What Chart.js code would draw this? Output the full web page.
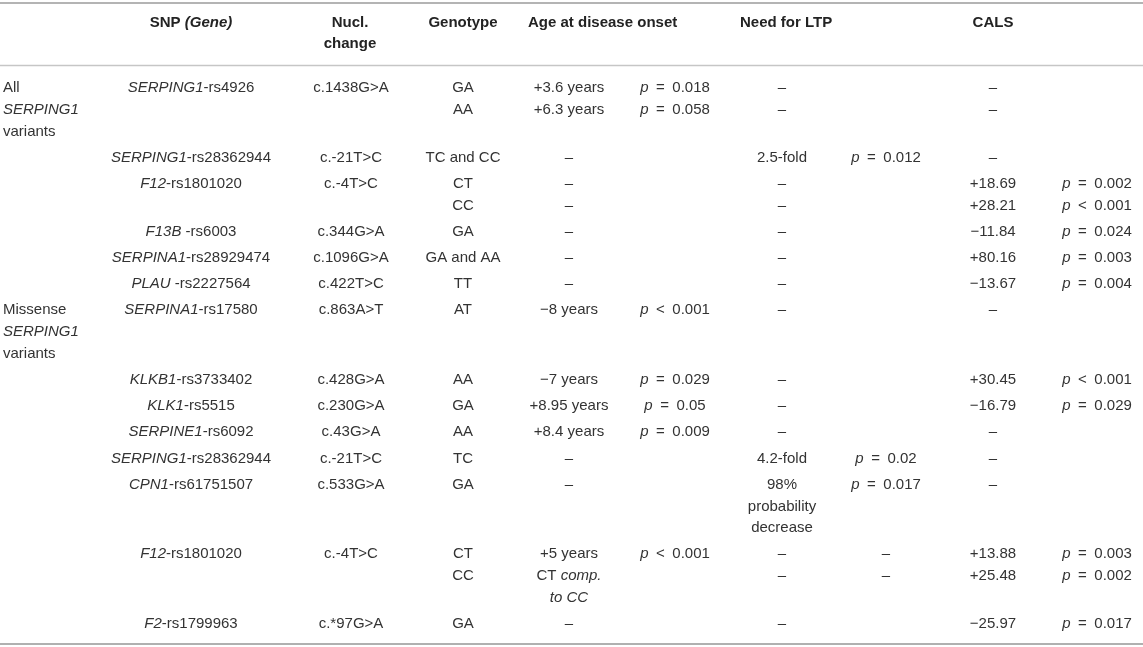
<!DOCTYPE html>
<html>
<head>
<meta charset="utf-8">
<script src="https://cdn.jsdelivr.net/npm/chart.js@4.4.1/dist/chart.umd.min.js"></script>
<style>
html, body { margin: 0; padding: 0; background: #fff; }
#wrap { width: 1143px; height: 647px; }
</style>
</head>
<body>
<div id="wrap"><canvas id="tbl" width="1143" height="647"></canvas></div>
<script>
// "_" toggles italic, "\n" breaks a cell into lines
var headers = ["SNP _(Gene)_", "Nucl.\nchange", "Genotype", "Age at disease onset", "Need for LTP", "CALS"];
var groups = ["All\n_SERPING1_\nvariants", "Missense\n_SERPING1_\nvariants"];
var groupOfRow = [0, 0, 0, 0, 0, 0, 1, 1, 1, 1, 1, 1, 1, 1];

var snps = [
    "_SERPING1_-rs4926", "_SERPING1_-rs28362944", "_F12_-rs1801020", "_F13B_ -rs6003",
    "_SERPINA1_-rs28929474", "_PLAU_ -rs2227564", "_SERPINA1_-rs17580", "_KLKB1_-rs3733402",
    "_KLK1_-rs5515", "_SERPINE1_-rs6092", "_SERPING1_-rs28362944", "_CPN1_-rs61751507",
    "_F12_-rs1801020", "_F2_-rs1799963"
];
var nuclChanges = [
    "c.1438G>A", "c.-21T>C", "c.-4T>C", "c.344G>A", "c.1096G>A", "c.422T>C", "c.863A>T",
    "c.428G>A", "c.230G>A", "c.43G>A", "c.-21T>C", "c.533G>A", "c.-4T>C", "c.*97G>A"
];
var genotypes = [
    ["GA", "AA"], ["TC and CC"], ["CT", "CC"], ["GA"], ["GA and AA"], ["TT"], ["AT"],
    ["AA"], ["GA"], ["AA"], ["TC"], ["GA"], ["CT", "CC"], ["GA"]
];
var ageOnset = [
    ["+3.6 years", "+6.3 years"], ["–"], ["–", "–"], ["–"], ["–"], ["–"], ["−8 years"],
    ["−7 years"], ["+8.95 years"], ["+8.4 years"], ["–"], ["–"], ["+5 years", "CT _comp._\n_to CC_"], ["–"]
];
var ageP = [
    ["_p_ = 0.018", "_p_ = 0.058"], [""], ["", ""], [""], [""], [""], ["_p_ < 0.001"],
    ["_p_ = 0.029"], ["_p_ = 0.05"], ["_p_ = 0.009"], [""], [""], ["_p_ < 0.001", ""], [""]
];
var ltp = [
    ["–", "–"], ["2.5-fold"], ["–", "–"], ["–"], ["–"], ["–"], ["–"],
    ["–"], ["–"], ["–"], ["4.2-fold"], ["98%\nprobability\ndecrease"], ["–", "–"], ["–"]
];
var ltpP = [
    ["", ""], ["_p_ = 0.012"], ["", ""], [""], [""], [""], [""],
    [""], [""], [""], ["_p_ = 0.02"], ["_p_ = 0.017"], ["–", "–"], [""]
];
var cals = [
    ["–", "–"], ["–"], ["+18.69", "+28.21"], ["−11.84"], ["+80.16"], ["−13.67"], ["–"],
    ["+30.45"], ["−16.79"], ["–"], ["–"], ["–"], ["+13.88", "+25.48"], ["−25.97"]
];
var calsP = [
    ["", ""], [""], ["_p_ = 0.002", "_p_ < 0.001"], ["_p_ = 0.024"], ["_p_ = 0.003"], ["_p_ = 0.004"], [""],
    ["_p_ < 0.001"], ["_p_ = 0.029"], [""], [""], [""], ["_p_ = 0.003", "_p_ = 0.002"], ["_p_ = 0.017"]
];

// layout
var FONT = "'Liberation Sans', Arial, sans-serif";
var FONT_SIZE = 15;
var colX = [3, 191, 351, 463, 569, 675, 782, 886, 993, 1097];
var headerX = [191, 350, 463, 528, 740, 993];
var headerAlign = ["center", "center", "center", "left", "left", "center"];
var headerY = 22.5, firstLineY = 88, lineStep = 21.7, rowPad = 4.5;
var rules = [
    { y: 3, width: 2, color: "#b4b4b4" },
    { y: 65.5, width: 1.5, color: "#c6c6c6" },
    { y: 644, width: 2, color: "#b0b0b0" }
];

function pushLines(arr, text, x, y) {
    text.split("\n").forEach(function(line, k) {
        if (line.length) arr.push({ x: x, y: y + k * lineStep, t: line });
    });
    return text.split("\n").length;
}

var headerPts = headers.map(function() { return []; });
headers.forEach(function(h, i) { pushLines(headerPts[i], h, headerX[i], headerY); });

var valueCols = [genotypes, ageOnset, ageP, ltp, ltpP, cals, calsP];
var colPts = colX.map(function() { return []; });
var y = firstLineY;
for (var r = 0; r < snps.length; r++) {
    var rowTop = y;
    pushLines(colPts[1], snps[r], colX[1], rowTop);
    pushLines(colPts[2], nuclChanges[r], colX[2], rowTop);
    var subTop = rowTop;
    for (var s = 0; s < genotypes[r].length; s++) {
        var maxLines = 1;
        valueCols.forEach(function(col, c) {
            var n = pushLines(colPts[3 + c], col[r][s], colX[3 + c], subTop);
            maxLines = Math.max(maxLines, n);
        });
        subTop += maxLines * lineStep;
    }
    var used = Math.round((subTop - rowTop) / lineStep);
    if (r === 0 || groupOfRow[r] !== groupOfRow[r - 1]) {
        var g = pushLines(colPts[0], groups[groupOfRow[r]], colX[0], rowTop);
        used = Math.max(used, g);
    }
    y = rowTop + used * lineStep + rowPad;
}

function drawRich(ctx, text, x, y, align, weight, color) {
    // math-style spacing around = and <
    text = text.replace(/ ([=<]) /g, "\u2002$1\u2002");
    var segs = text.split("_").map(function(p, k) {
        return { s: p, it: k % 2 === 1 };
    }).filter(function(seg) { return seg.s.length > 0; });
    var fontOf = function(seg) {
        return (seg.it ? "italic " : "") + weight + " " + FONT_SIZE + "px " + FONT;
    };
    var total = 0;
    segs.forEach(function(seg) {
        ctx.font = fontOf(seg);
        seg.w = ctx.measureText(seg.s).width;
        total += seg.w;
    });
    var cx = align === "left" ? x : x - total / 2;
    ctx.textAlign = "left";
    ctx.textBaseline = "middle";
    ctx.fillStyle = color;
    segs.forEach(function(seg) {
        ctx.font = fontOf(seg);
        ctx.fillText(seg.s, cx, y);
        cx += seg.w;
    });
}

var cellText = {
    id: "cellText",
    afterDatasetsDraw: function(chart) {
        var ctx = chart.ctx;
        ctx.save();
        chart.data.datasets.forEach(function(ds, i) {
            if (!ds.cellWeight) return;
            chart.getDatasetMeta(i).data.forEach(function(pt, j) {
                drawRich(ctx, ds.data[j].t, pt.x, pt.y, ds.cellAlign, ds.cellWeight, ds.cellColor);
            });
        });
        ctx.restore();
    }
};

var datasets = [];
rules.forEach(function(rule) {
    datasets.push({
        data: [{ x: 0, y: rule.y }, { x: 1143, y: rule.y }],
        showLine: true,
        borderColor: rule.color,
        borderWidth: rule.width,
        pointRadius: 0,
        pointHoverRadius: 0,
        clip: false
    });
});
headerPts.forEach(function(pts, i) {
    datasets.push({ data: pts, pointRadius: 0, pointHoverRadius: 0,
        cellWeight: "bold", cellAlign: headerAlign[i], cellColor: "#232323" });
});
colPts.forEach(function(pts, i) {
    datasets.push({ data: pts, pointRadius: 0, pointHoverRadius: 0,
        cellWeight: "normal", cellAlign: i === 0 ? "left" : "center", cellColor: "#333333" });
});

new Chart(document.getElementById("tbl"), {
    type: "scatter",
    data: { datasets: datasets },
    options: {
        responsive: false,
        animation: false,
        events: [],
        layout: { padding: 0 },
        scales: {
            x: { type: "linear", min: 0, max: 1143, display: false },
            y: { type: "linear", min: 0, max: 647, reverse: true, display: false }
        },
        plugins: { legend: { display: false }, tooltip: { enabled: false } }
    },
    plugins: [cellText]
});
</script>
</body>
</html>
